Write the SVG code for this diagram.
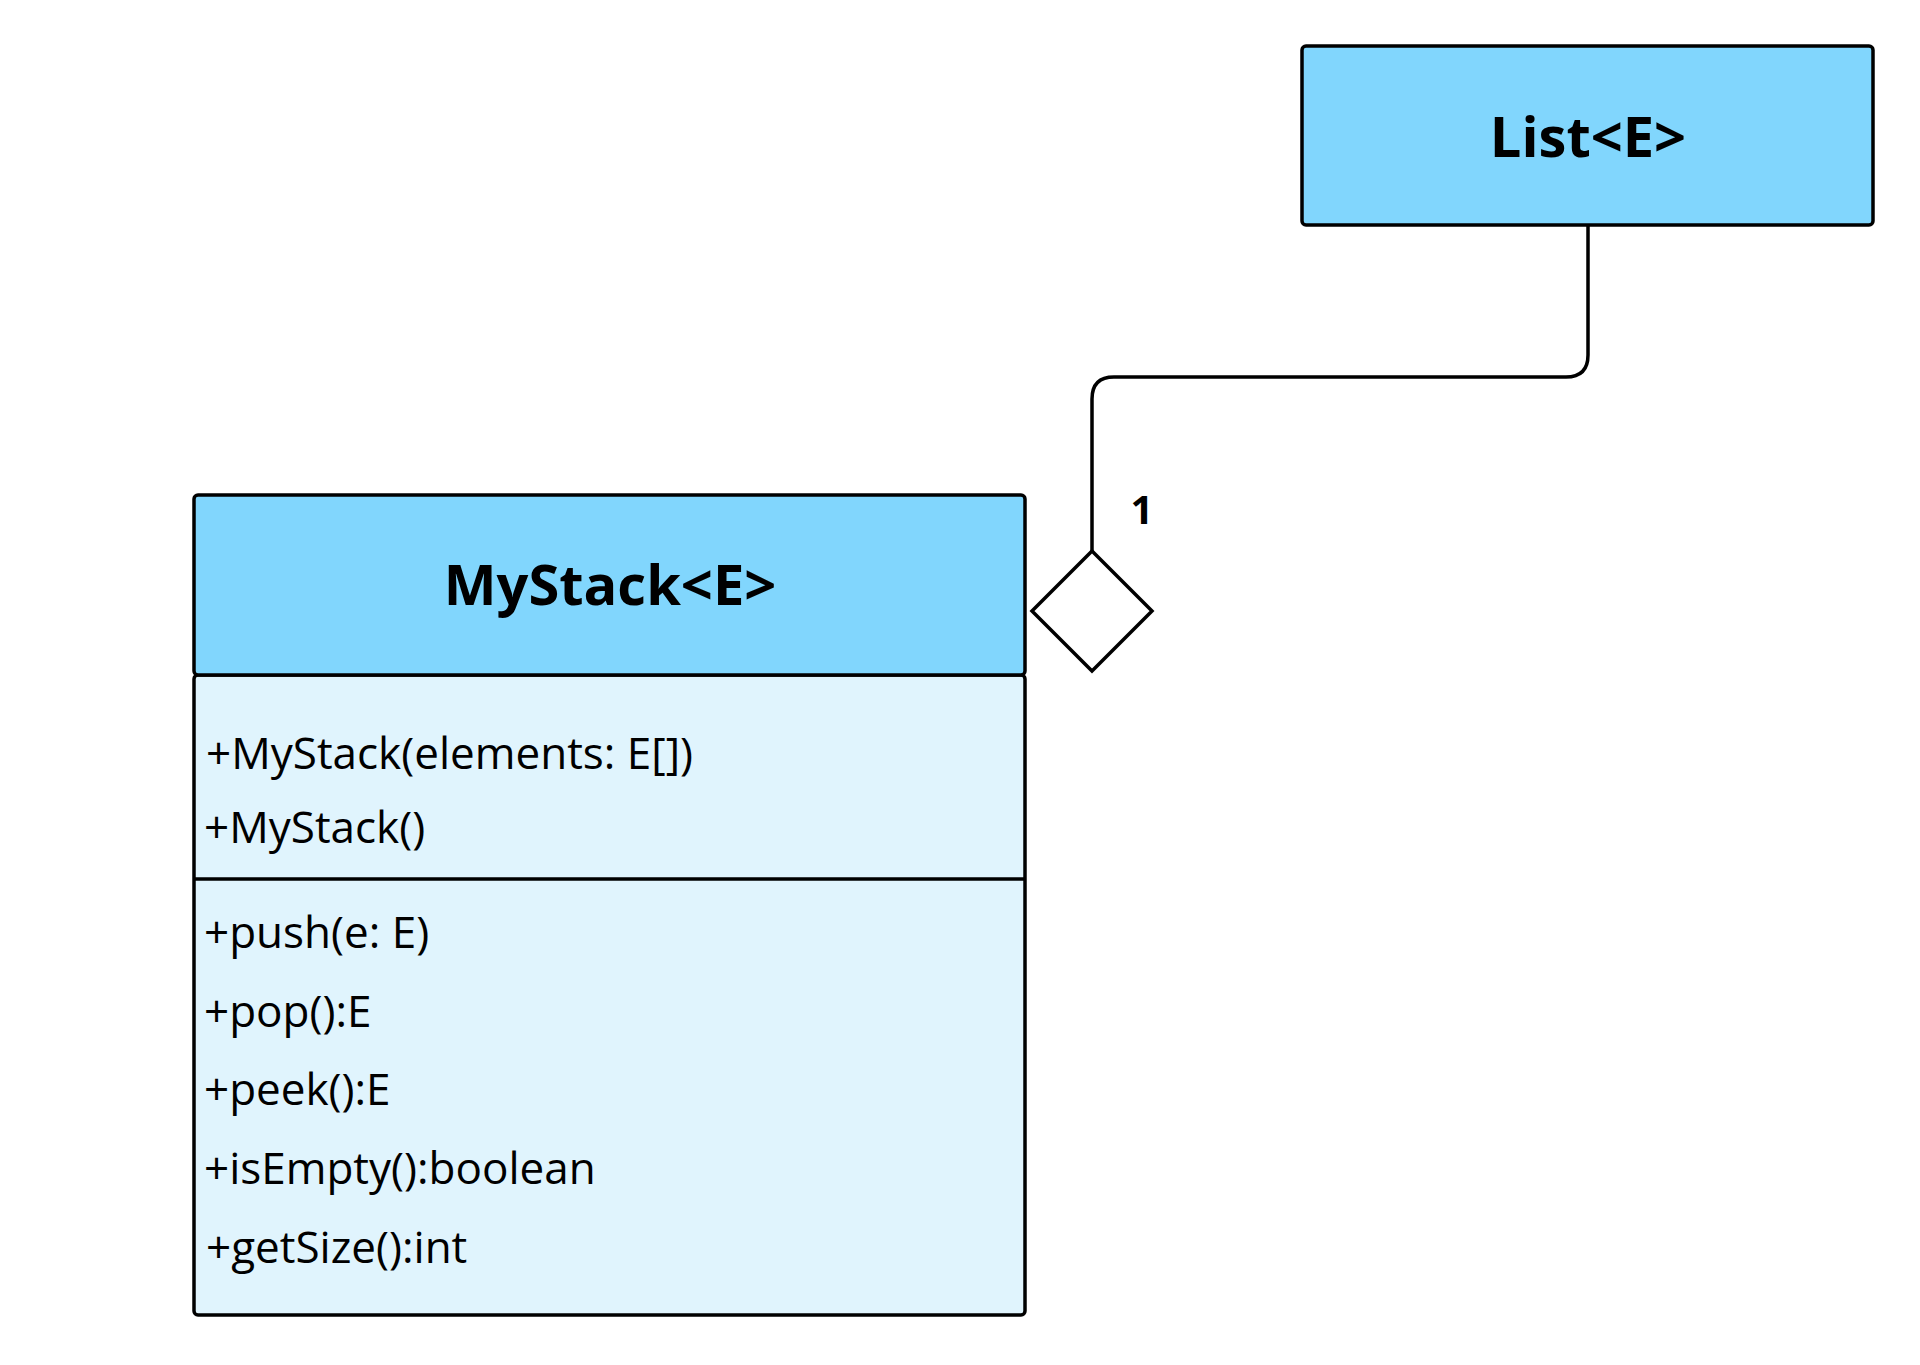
<svg xmlns="http://www.w3.org/2000/svg" width="1920" height="1365" viewBox="0 0 1920 1365">
<style>
.box{stroke:#000;stroke-width:3.5}
.hdr{fill:#81d6fd}
.body{fill:#e0f4fd}
.t{font-family:"Open Sans","Liberation Sans",sans-serif;font-size:44px;fill:#000}
.b{font-weight:bold;font-size:56px;text-anchor:middle}
.ln{fill:none;stroke:#000;stroke-width:3.5}
</style>
<rect width="1920" height="1365" fill="#fff"/>
<g id="list">
<rect class="box hdr" x="1302" y="46" width="571" height="179" rx="4"/>
<text class="t b" x="1588" y="157">List&lt;E&gt;</text>
</g>
<g id="mystack">
<rect class="box body" x="194" y="675" width="831" height="640" rx="4"/>
<rect class="box hdr" x="194" y="495" width="831" height="180" rx="4"/>
<line class="ln" x1="194" y1="879" x2="1025" y2="879"/>
<text class="t b" x="610" y="605">MyStack&lt;E&gt;</text>
<text class="t" x="206" y="769">+MyStack(elements: E[])</text>
<text class="t" x="204" y="843">+MyStack()</text>
<text class="t" x="204" y="948">+push(e: E)</text>
<text class="t" x="204" y="1027">+pop():E</text>
<text class="t" x="204" y="1105">+peek():E</text>
<text class="t" x="204" y="1184">+isEmpty():boolean</text>
<text class="t" x="206" y="1263">+getSize():int</text>
</g>
<g id="connectors">
<path class="ln" d="M1092 551 V399 Q1092 377 1114 377 H1566 Q1588 377 1588 355 V225"/>
<path class="ln" fill="#fff" d="M1092 551 L1152 611 L1092 671 L1032 611 Z" style="fill:#fff"/>
<text class="t" x="1142" y="524" style="font-weight:bold;font-size:40px;text-anchor:middle">1</text>
</g>
</svg>
